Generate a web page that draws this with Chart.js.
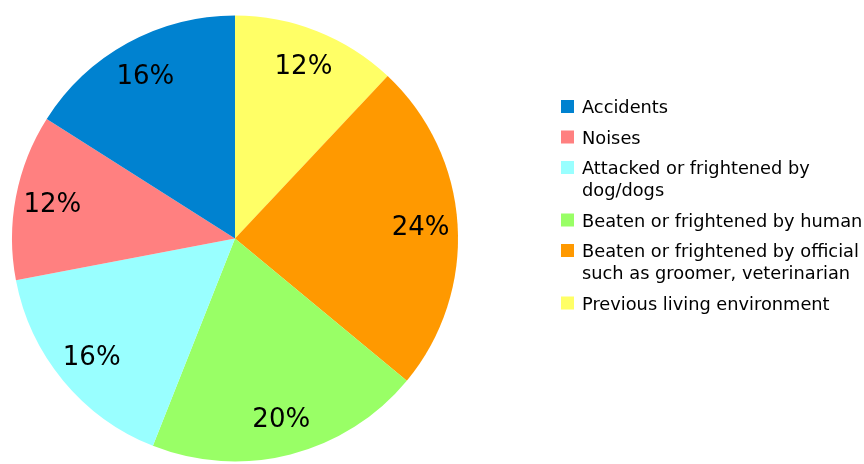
<!DOCTYPE html>
<html>
<head>
<meta charset="utf-8">
<script src="https://cdn.jsdelivr.net/npm/chart.js@4/dist/chart.umd.min.js"></script>
<style>
  html, body { margin: 0; padding: 0; background: #ffffff; }
  #wrap { position: relative; width: 864px; height: 464px; }
</style>
</head>
<body>
<div id="wrap"><canvas id="pie" width="864" height="464"></canvas></div>
<script>
// Causes of fear, share of cases (%), listed clockwise from 12 o'clock
const categories = [
  'Previous living environment',
  ['Beaten or frightened by official', 'such as groomer, veterinarian'],
  'Beaten or frightened by human',
  ['Attacked or frightened by', 'dog/dogs'],
  'Noises',
  'Accidents'
];
const shares = [12, 24, 20, 16, 12, 16];
const sliceColors = ['#ffff66', '#ff9900', '#99ff66', '#99ffff', '#ff8080', '#0082d0'];

const FONT = '"DejaVu Sans", Verdana, sans-serif';

// Percentage text inside each slice
const sliceLabels = {
  id: 'sliceLabels',
  afterDatasetsDraw(chart) {
    const ctx = chart.ctx;
    const ds = chart.data.datasets[0];
    ctx.save();
    ctx.font = '26px ' + FONT;
    ctx.fillStyle = '#000000';
    ctx.textAlign = 'center';
    ctx.textBaseline = 'middle';
    chart.getDatasetMeta(0).data.forEach((arc, i) => {
      const p = arc.getProps(['x', 'y', 'startAngle', 'endAngle', 'outerRadius'], true);
      const mid = (p.startAngle + p.endAngle) / 2;
      const r = p.outerRadius * 0.834;
      ctx.fillText(ds.data[i] + '%', p.x + Math.cos(mid) * r, p.y + Math.sin(mid) * r + 1.5);
    });
    ctx.restore();
  }
};

// Legend at the right, listed in reverse drawing order
const sideLegend = {
  id: 'sideLegend',
  afterDraw(chart) {
    const ctx = chart.ctx;
    const colors = chart.data.datasets[0].backgroundColor;
    const boxX = 561, box = 13, textX = 582;
    const lineGap = 22, itemGap = 30.5;
    let baseline = 113;
    ctx.save();
    ctx.font = '17.8px ' + FONT;
    ctx.fillStyle = '#000000';
    ctx.textBaseline = 'alphabetic';
    ctx.textAlign = 'left';
    for (let i = chart.data.labels.length - 1; i >= 0; i--) {
      const lines = [].concat(chart.data.labels[i]);
      ctx.fillStyle = colors[i];
      ctx.fillRect(boxX, baseline - box, box, box);
      ctx.fillStyle = '#000000';
      lines.forEach((t, k) => ctx.fillText(t, textX, baseline + k * lineGap));
      baseline += (lines.length - 1) * lineGap + itemGap;
    }
    ctx.restore();
  }
};

new Chart(document.getElementById('pie'), {
  type: 'pie',
  data: {
    labels: categories,
    datasets: [{
      data: shares,
      backgroundColor: sliceColors,
      borderWidth: 0
    }]
  },
  options: {
    responsive: false,
    animation: false,
    layout: { padding: { left: 12, top: 15, right: 406, bottom: 2 } },
    plugins: {
      legend: { display: false },
      tooltip: { enabled: false }
    }
  },
  plugins: [sliceLabels, sideLegend]
});
</script>
</body>
</html>
